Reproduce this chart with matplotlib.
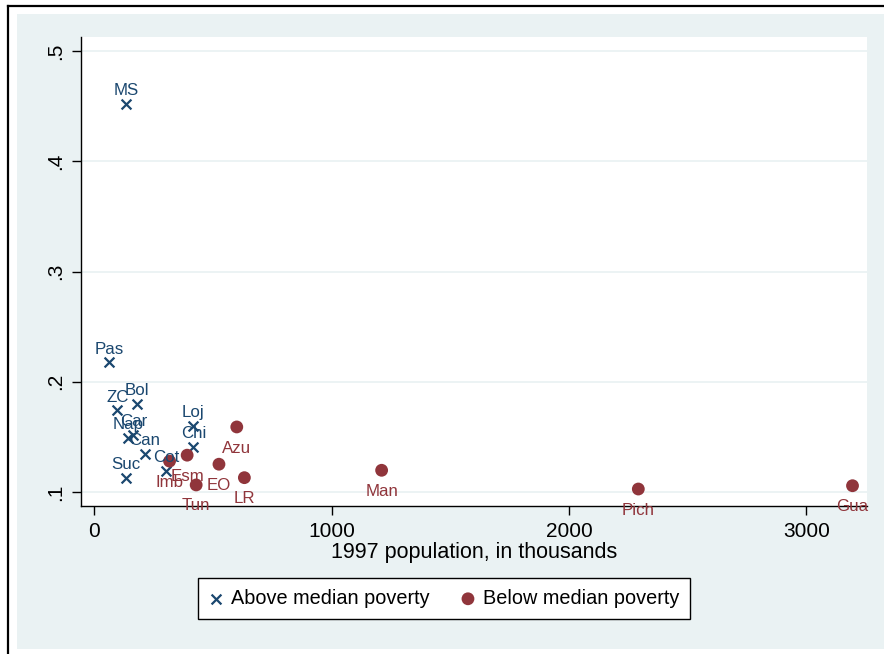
import numpy as np
import matplotlib.pyplot as plt
from matplotlib.patches import Rectangle
from matplotlib.lines import Line2D

plt.rcParams['font.family'] = ['Liberation Sans', 'DejaVu Sans']

# population (thousands) and poverty share by province
above_names = ['MS', 'Pas', 'ZC', 'Bol', 'Nap', 'Car', 'Can', 'Cot', 'Suc', 'Loj', 'Chi']
above_pop = [135, 63, 98, 182, 144, 166, 215, 303, 134, 418, 418]
above_pov = [0.452, 0.2175, 0.174, 0.18, 0.149, 0.152, 0.1345, 0.119, 0.1125, 0.160, 0.141]

below_names = ['Imb', 'Esm', 'Tun', 'EO', 'Azu', 'LR', 'Man', 'Pich', 'Gua']
below_pop = [318, 392, 430, 526, 601, 633, 1211, 2292, 3194]
below_pov = [0.128, 0.1334, 0.1064, 0.1252, 0.159, 0.113, 0.1197, 0.1027, 0.1057]

navy = '#1A476F'
maroon = '#90353B'
bg = '#EAF2F3'

fig = plt.figure(figsize=(8.84, 6.54), dpi=100)
fig.patch.set_facecolor('white')

# graph region background and outer frame
fig.patches.append(Rectangle((17/884, 1-649/654), 1.0, (649-14)/654,
                             transform=fig.transFigure, facecolor=bg,
                             edgecolor='none', zorder=-10))
fig.lines.append(Line2D([8/884, 8/884], [0, 1-6/654], transform=fig.transFigure,
                        color='black', lw=1.6, zorder=-5))
fig.lines.append(Line2D([8/884, 1], [1-6/654, 1-6/654], transform=fig.transFigure,
                        color='black', lw=1.6, zorder=-5))

ax = fig.add_axes([81/884, 1-506/654, (867-81)/884, (506-37)/654])
ax.set_facecolor('white')

for y in [0.1, 0.2, 0.3, 0.4, 0.5]:
    ax.axhline(y, color=bg, lw=1.3, zorder=1)

ax.scatter(above_pop, above_pov, marker='x', s=50, color=navy, linewidths=1.6,
           zorder=3, label='Above median poverty')
ax.scatter(below_pop, below_pov, marker='o', s=85, color=maroon, edgecolors='none',
           zorder=3, label='Below median poverty')

for n, x, y in zip(above_names, above_pop, above_pov):
    ax.annotate(n, (x, y), xytext=(0, 6.4), textcoords='offset points',
                ha='center', va='baseline', fontsize=12.2, color=navy,
                annotation_clip=False, zorder=4)
for n, x, y in zip(below_names, below_pop, below_pov):
    ax.annotate(n, (x, y), xytext=(0, -18.4), textcoords='offset points',
                ha='center', va='baseline', fontsize=12.2, color=maroon,
                annotation_clip=False, zorder=4)

ax.set_xlim(-55, 3255)
ax.set_ylim(0.0873, 0.5127)
ax.set_xticks([0, 1000, 2000, 3000])
ax.set_yticks([0.1, 0.2, 0.3, 0.4, 0.5])
ax.set_yticklabels(['.1', '.2', '.3', '.4', '.5'], rotation=90, va='center')
ax.tick_params(axis='both', length=6.5, width=1, labelsize=15, pad=5, colors='black')
ax.spines['top'].set_visible(False)
ax.spines['right'].set_visible(False)
ax.spines['left'].set_linewidth(1)
ax.spines['bottom'].set_linewidth(1)
ax.set_xlabel('1997 population, in thousands', fontsize=15.5, labelpad=1)

leg = fig.legend(loc='center', bbox_to_anchor=(444/884, 1-598.5/654), ncol=2,
                 fontsize=14.3, frameon=True, fancybox=False, edgecolor='black',
                 facecolor='white', framealpha=1,
                 handletextpad=0.4, columnspacing=1.6, handlelength=0.7,
                 borderpad=0.55, borderaxespad=0)
leg.get_frame().set_linewidth(1)

fig.savefig('out.png', dpi=100)
